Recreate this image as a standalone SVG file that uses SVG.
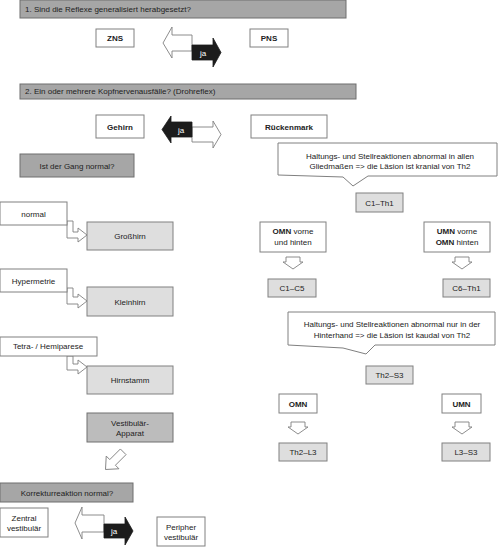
<svg xmlns="http://www.w3.org/2000/svg" width="500" height="547" viewBox="0 0 500 547">
<style>
text{font-family:"Liberation Sans",Arial,sans-serif;font-size:8px;fill:#222}
.b{font-weight:bold}
.c{text-anchor:middle}
.hdr{fill:#a6a6a6;stroke:#6e6e6e;stroke-width:1}
.wb{fill:#fff;stroke:#808080;stroke-width:1}
.lb{fill:#dedede;stroke:#808080;stroke-width:1}
.mb{fill:#bcbcbc;stroke:#707070;stroke-width:1}
.wa{fill:#fff;stroke:#808080;stroke-width:0.9}
.ba{fill:#1c1c1c;stroke:#1c1c1c;stroke-width:0.8}
.ja{fill:#fff;text-anchor:middle}
</style>
<defs>
<path id="dn" d="M-7,0 H7 V5 H10 L0,12 L-10,5 H-7 Z"/>
</defs>
<g id="connectors">
<path class="wa" d="M192,35 H172 V27 L163,43 L172,58 V51 H192 Z"/>
<path class="ba" d="M192,45 H213 V38 L221,52.5 L213,67 V60 H192 Z"/>
<text class="ja" x="203" y="56">ja</text>
<path class="wa" d="M192,127 H213 V121 L221,134.5 L213,148 V142 H192 Z"/>
<path class="ba" d="M192,122 H171 V116 L162,129.5 L171,143 V137 H192 Z"/>
<text class="ja" x="181" y="132.5">ja</text>
<path class="wa" d="M67,221 H73 V232 H78 V228 L87,235 L78,242 V238 H67 Z"/>
<path class="wa" d="M67,288 H73 V297 H78 V294 L87,301 L78,308 V304 H67 Z"/>
<path class="wa" d="M67,356 H73 V364 H78 V360 L87,367 L78,374 V370 H67 Z"/>
<path class="wa" transform="translate(114,461) rotate(45)" d="M-4,-13 H4 V2 H9 L0,12 L-9,2 H-4 Z"/>
<use href="#dn" class="wa" x="293" y="257"/>
<use href="#dn" class="wa" x="462" y="257"/>
<use href="#dn" class="wa" x="298" y="422"/>
<use href="#dn" class="wa" x="462" y="422"/>
<path class="wa" d="M104,515 H82 V507 L75,523 L82,539 V532 H104 Z"/>
<path class="ba" d="M104,524 H125 V517 L133,531 L125,545 V538 H104 Z"/>
<text class="ja" x="114" y="534">ja</text>
</g>
<g id="q1"><rect class="hdr" x="20" y="0" width="326" height="18"/><text x="25" y="12">1. Sind die Reflexe generalisiert herabgesetzt?</text></g>
<g id="zns"><rect class="wb" x="96" y="29" width="38" height="18"/><text class="b c" x="115" y="41">ZNS</text></g>
<g id="pns"><rect class="wb" x="250" y="29" width="38" height="18"/><text class="b c" x="269" y="41">PNS</text></g>
<g id="q2"><rect class="hdr" x="20" y="84" width="336" height="15"/><text x="25" y="94">2. Ein oder mehrere Kopfnervenausfälle? (Drohreflex)</text></g>
<g id="gehirn"><rect class="wb" x="96" y="115" width="48" height="23"/><text class="b c" x="120" y="129.5">Gehirn</text></g>
<g id="rueckenmark"><rect class="wb" x="251" y="115" width="76" height="23"/><text class="b c" x="289" y="129.5">Rückenmark</text></g>
<g id="gang"><rect class="hdr" x="20" y="154" width="114" height="23"/><text class="c" x="77" y="168.5">Ist der Gang normal?</text></g>
<g id="callout1"><path class="wb" d="M278,143 H497 V176 H368 L353,186 L343,177 L278,175 Z"/><text class="c" x="390" y="158.5">Haltungs- und Stellreaktionen abnormal in allen</text><text class="c" x="390" y="169">Gliedmaßen =&gt; die Läsion ist kranial von Th2</text></g>
<g id="c1th1"><rect class="lb" x="356" y="193" width="47" height="19"/><text class="c" x="379.5" y="205.5">C1–Th1</text></g>
<g id="omn-vh"><rect class="wb" x="260" y="222" width="66" height="30"/><text class="c" x="293" y="234"><tspan class="b">OMN</tspan> vorne</text><text class="c" x="293" y="244.5">und hinten</text></g>
<g id="umn-v"><rect class="wb" x="424" y="222" width="66" height="30"/><text class="c" x="457" y="234"><tspan class="b">UMN</tspan> vorne</text><text class="c" x="457" y="244.5"><tspan class="b">OMN</tspan> hinten</text></g>
<g id="c1c5"><rect class="lb" x="268" y="279" width="48" height="18"/><text class="c" x="292" y="291">C1–C5</text></g>
<g id="c6th1"><rect class="lb" x="443" y="279" width="47" height="18"/><text class="c" x="466.5" y="291">C6–Th1</text></g>
<g id="callout2"><path class="wb" d="M288,312 H495 V345 H375 L366,354 L343,348 L288,345 Z"/><text class="c" x="392" y="327">Haltungs- und Stellreaktionen abnormal nur in der</text><text class="c" x="392" y="337.5">Hinterhand =&gt; die Läsion ist kaudal von Th2</text></g>
<g id="th2s3"><rect class="lb" x="366" y="366" width="47" height="18"/><text class="c" x="389.5" y="378">Th2–S3</text></g>
<g id="omn"><rect class="wb" x="279" y="394" width="38" height="19"/><text class="b c" x="298" y="406.5">OMN</text></g>
<g id="umn"><rect class="wb" x="442" y="394" width="39" height="19"/><text class="b c" x="461.5" y="406.5">UMN</text></g>
<g id="th2l3"><rect class="lb" x="279" y="443" width="48" height="18"/><text class="c" x="303" y="455">Th2–L3</text></g>
<g id="l3s3"><rect class="lb" x="442" y="443" width="48" height="18"/><text class="c" x="466" y="455">L3–S3</text></g>
<g id="normal"><rect class="wb" x="0" y="202" width="67" height="23"/><text class="c" x="33.5" y="216.5">normal</text></g>
<g id="grosshirn"><rect class="lb" x="87" y="222" width="86" height="28"/><text class="c" x="130" y="239">Großhirn</text></g>
<g id="hypermetrie"><rect class="wb" x="0" y="269" width="67" height="23"/><text class="c" x="33.5" y="283.5">Hypermetrie</text></g>
<g id="kleinhirn"><rect class="lb" x="87" y="287" width="86" height="29"/><text class="c" x="130" y="304.5">Kleinhirn</text></g>
<g id="tetra"><rect class="wb" x="0" y="337" width="97" height="19"/><text class="c" x="48" y="349">Tetra- / Hemiparese</text></g>
<g id="hirnstamm"><rect class="lb" x="87" y="366" width="86" height="28"/><text class="c" x="130" y="383">Hirnstamm</text></g>
<g id="vestibulaer"><rect class="mb" x="87" y="413" width="86" height="29"/><text class="c" x="130" y="425.5">Vestibulär-</text><text class="c" x="130" y="436">Apparat</text></g>
<g id="korrektur"><rect class="hdr" x="0" y="483" width="133" height="19"/><text class="c" x="67" y="495.5">Korrekturreaktion normal?</text></g>
<g id="zentral"><rect class="wb" x="0" y="508" width="48" height="29"/><text class="c" x="24" y="520.5">Zentral</text><text class="c" x="24" y="531">vestibulär</text></g>
<g id="peripher"><rect class="wb" x="157" y="517" width="48" height="29"/><text class="c" x="181" y="529.5">Peripher</text><text class="c" x="181" y="540">vestibulär</text></g>
</svg>
